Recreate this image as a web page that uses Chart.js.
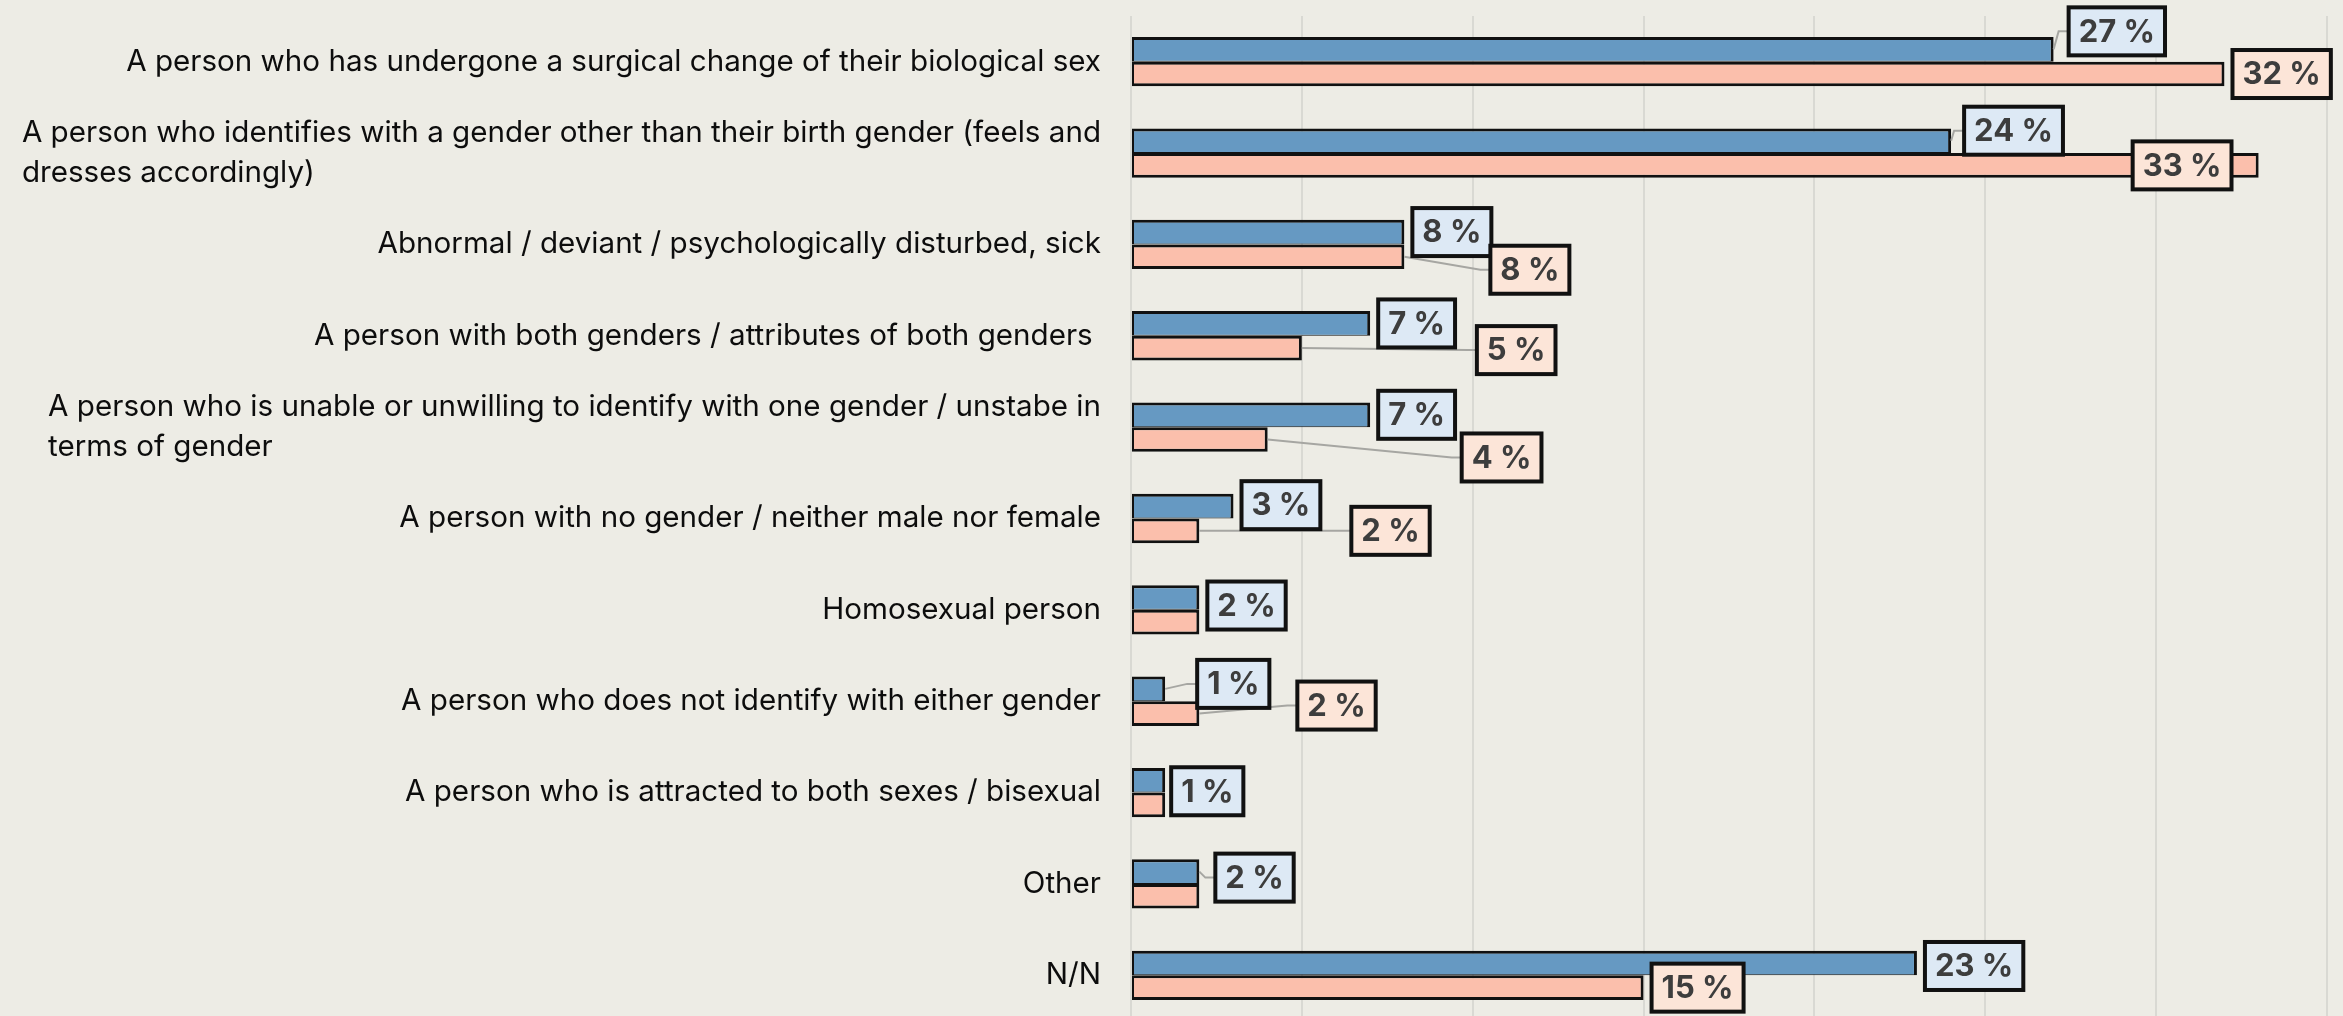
<!DOCTYPE html>
<html>
<head>
<meta charset="utf-8">
<script src="https://cdn.jsdelivr.net/npm/chart.js@4.4.1/dist/chart.umd.min.js"></script>
<style>
  html, body { margin: 0; padding: 0; background: #edece5; overflow: hidden; }
  #wrap { width: 2343px; height: 1021px; position: relative; }
</style>
</head>
<body>
<div id="wrap"><canvas id="chart"></canvas></div>
<script>
// Categories (wrapped ones given as lists of lines)
const categories = [
  "A person who has undergone a surgical change of their biological sex",
  ["A person who identifies with a gender other than their birth gender (feels and", "dresses accordingly)"],
  "Abnormal / deviant / psychologically disturbed, sick",
  "A person with both genders / attributes of both genders ",
  ["A person who is unable or unwilling to identify with one gender / unstabe in", "terms of gender"],
  "A person with no gender / neither male nor female",
  "Homosexual person",
  "A person who does not identify with either gender",
  "A person who is attracted to both sexes / bisexual",
  "Other",
  "N/N"
];

// Series values (%)
const blueValues = [27, 24, 8, 7, 7, 3, 2, 1, 1, 2, 23];
const pinkValues = [32, 33, 8, 5, 4, 2, 2, 2, 1, 2, 15];

// x gridlines every 5 %, up to 35
const xMax = 35;
const xStep = 5;

// Label nudges in px [dx, dy] from the bar end; null = label hidden
const blueShift = [[7, -18], [5, -10], [0, 0], [0, 0], [0, 0], [0, -1], [0, 8], [24, -5], [-2, 11], [8, 6], [0, 3]];
const pinkShift = [[0, 0], [-134, 0], [78, 13], [167, 2], [186, 18], [144, 0], null, [90, -8], null, null, [0, 0]];

const BLUE = "#6699c2";
const PINK = "#fbbfac";
const BOX_FILLS = ["#dde9f5", "#fce5d8"];

// Draws the category labels on the left (block right aligned, lines left aligned)
const categoryLabels = {
  id: "categoryLabels",
  afterDraw(chart) {
    const ctx = chart.ctx;
    const yScale = chart.scales.y;
    const right = chart.chartArea.left - 30;
    ctx.save();
    ctx.font = "29.6px Inter";
    ctx.fillStyle = "#0d0d0d";
    ctx.textAlign = "left";
    ctx.textBaseline = "middle";
    categories.forEach((cat, i) => {
      const lines = Array.isArray(cat) ? cat : [cat];
      const width = Math.max(...lines.map((l) => ctx.measureText(l).width));
      const y = yScale.getPixelForValue(i);
      lines.forEach((line, j) => {
        ctx.fillText(line, right - width, y + (j - (lines.length - 1) / 2) * 40);
      });
    });
    ctx.restore();
  }
};

// Draws the "NN %" boxes with leader lines
const percentLabels = {
  id: "percentLabels",
  afterDatasetsDraw(chart) {
    const ctx = chart.ctx;
    ctx.save();
    ctx.font = "700 31px Inter";
    const boxes = [];
    chart.data.datasets.forEach((ds, di) => {
      const shifts = di === 0 ? blueShift : pinkShift;
      chart.getDatasetMeta(di).data.forEach((bar, i) => {
        const s = shifts[i];
        if (!s) return;
        const text = ds.data[i] + " %";
        const w = ctx.measureText(text).width + 20;
        boxes.push({
          text, w,
          left: bar.x + 8 + s[0],
          cy: bar.y + s[1],
          barX: bar.x,
          barY: bar.y,
          leader: s[0] > 3,
          fill: BOX_FILLS[di]
        });
      });
    });

    // leader lines under the boxes
    ctx.strokeStyle = "#a6a6a2";
    ctx.lineWidth = 2;
    boxes.filter((b) => b.leader).forEach((b) => {
      ctx.beginPath();
      ctx.moveTo(b.barX, b.barY);
      ctx.lineTo(b.left - 10, b.cy);
      ctx.lineTo(b.left, b.cy);
      ctx.stroke();
    });

    // boxes
    ctx.textAlign = "center";
    ctx.textBaseline = "middle";
    boxes.forEach((b) => {
      ctx.fillStyle = b.fill;
      ctx.fillRect(b.left, b.cy - 24, b.w, 48);
      ctx.strokeStyle = "#111111";
      ctx.lineWidth = 4;
      ctx.strokeRect(b.left, b.cy - 24, b.w, 48);
      ctx.fillStyle = "#3d3d3d";
      ctx.fillText(b.text, b.left + b.w / 2, b.cy + 1);
    });
    ctx.restore();
  }
};

const ctx = document.getElementById("chart").getContext("2d");
new Chart(ctx, {
  type: "bar",
  data: {
    labels: categories,
    datasets: [
      {
        label: "Series 1",
        data: blueValues,
        backgroundColor: BLUE,
        borderColor: "#111111",
        borderWidth: { top: 3, right: 3, bottom: 1, left: 2 },
        borderSkipped: false
      },
      {
        label: "Series 2",
        data: pinkValues,
        backgroundColor: PINK,
        borderColor: "#111111",
        borderWidth: { top: 3, right: 3, bottom: 3, left: 2 },
        borderSkipped: false
      }
    ]
  },
  options: {
    indexAxis: "y",
    responsive: true,
    maintainAspectRatio: false,
    animation: false,
    layout: { padding: { left: 1131, right: 16, top: 16, bottom: 0 } },
    datasets: { bar: { categoryPercentage: 0.54, barPercentage: 1 } },
    plugins: {
      legend: { display: false },
      tooltip: { enabled: false }
    },
    scales: {
      x: {
        min: 0,
        max: xMax,
        ticks: { display: false, stepSize: xStep },
        grid: { color: "#d9d9d3", lineWidth: 2, drawTicks: false },
        border: { display: false }
      },
      y: { display: false }
    }
  },
  plugins: [categoryLabels, percentLabels]
});
</script>
</body>
</html>
